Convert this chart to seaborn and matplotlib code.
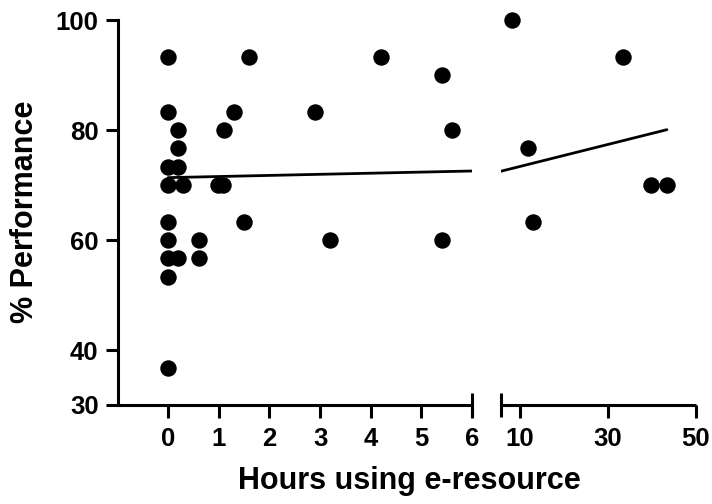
import numpy as np
import pandas as pd
import matplotlib
matplotlib.use("Agg")
import matplotlib.pyplot as plt
import seaborn as sns

# ---- data ----
hours = [0, 0, 0, 0, 0, 0, 0, 0, 0,
         0.2, 0.2, 0.2, 0.2, 0.3,
         0.6, 0.6,
         0.99, 1.09, 1.1, 1.31, 1.5, 1.6,
         2.9, 3.2, 4.2, 5.4, 5.4, 5.6,
         8.3, 12.0, 13.1, 33.4, 39.9, 43.4]
performance = [93.3, 83.3, 73.3, 70, 63.3, 60, 56.7, 53.3, 36.7,
               80, 76.7, 73.3, 56.7, 70,
               60, 56.7,
               70, 70, 80, 83.3, 63.3, 93.3,
               83.3, 60, 93.3, 90, 60, 80,
               100, 76.7, 63.3, 93.3, 70, 70]

left_ticks = [0, 1, 2, 3, 4, 5, 6]
right_ticks = [10, 30, 50]
y_ticks = [30, 40, 60, 80, 100]
x_label = "Hours using e-resource"
y_label = "% Performance"

df = pd.DataFrame({"hours": hours, "perf": performance})

# linear fit over all points
slope, intercept = np.polyfit(df["hours"], df["perf"], 1)
fit_x = np.linspace(min(hours), max(hours), 200)
fit_df = pd.DataFrame({"hours": fit_x, "perf": intercept + slope * fit_x})

sns.set_style("ticks")
plt.rcParams["font.family"] = ["Liberation Sans", "DejaVu Sans"]
plt.rcParams["font.weight"] = "bold"
for k in ["text.color", "axes.labelcolor", "xtick.color", "ytick.color",
          "axes.edgecolor"]:
    plt.rcParams[k] = "black"

W, H = 712, 504
fig = plt.figure(figsize=(W / 100, H / 100), dpi=100)
bottom = 1 - 405 / H
height = (405 - 20) / H
ax1 = fig.add_axes([118 / W, bottom, (472 - 118) / W, height])
ax2 = fig.add_axes([501 / W, bottom, (696 - 501) / W, height])

lw = 2.2
for ax, xlim, ticks, cap in [(ax1, (-0.99, 6), left_ticks, 6),
                             (ax2, (5.8, 50), right_ticks, 5.8)]:
    sub = df[(df["hours"] >= xlim[0]) & (df["hours"] <= xlim[1])]
    sns.scatterplot(data=sub, x="hours", y="perf", ax=ax, color="black",
                    s=140, linewidth=0, clip_on=False, zorder=3)
    sns.lineplot(data=fit_df, x="hours", y="perf", ax=ax, color="black",
                 linewidth=2.0, zorder=2)
    ax.set_xlim(*xlim)
    ax.set_ylim(30, 100)
    ax.xaxis.remove_overlapping_locs = False
    ax.set_xticks(ticks)
    ax.set_xticks([cap], minor=True)
    ax.set_xticklabels([str(t) for t in ticks], fontsize=18.5, fontweight="bold")
    ax.tick_params(axis="x", which="major", direction="out", length=9,
                   width=lw, pad=7, colors="black")
    ax.tick_params(axis="x", which="minor", direction="inout", length=17,
                   width=lw, colors="black")
    ax.set_xlabel("")
    ax.set_ylabel("")
    for s in ["top", "right"]:
        ax.spines[s].set_visible(False)
    ax.spines["bottom"].set_linewidth(lw)
    ax.spines["left"].set_linewidth(lw)
    ax.spines["bottom"].set_capstyle("butt")

ax1.set_yticks(y_ticks)
ax1.set_yticklabels([str(t) for t in y_ticks], fontsize=18.5, fontweight="bold")
ax1.tick_params(axis="y", direction="out", length=9, width=lw, pad=5,
                colors="black")
ax2.spines["left"].set_visible(False)
ax2.tick_params(axis="y", left=False, labelleft=False)

fig.text(409 / W, 1 - 481 / H, x_label, ha="center",
         va="center", fontsize=22, fontweight="bold", color="black")
fig.text(25 / W, 1 - 212 / H, y_label, ha="center", va="center",
         rotation=90, fontsize=22, fontweight="bold", color="black")

fig.savefig("out.png", dpi=100, facecolor="white")
